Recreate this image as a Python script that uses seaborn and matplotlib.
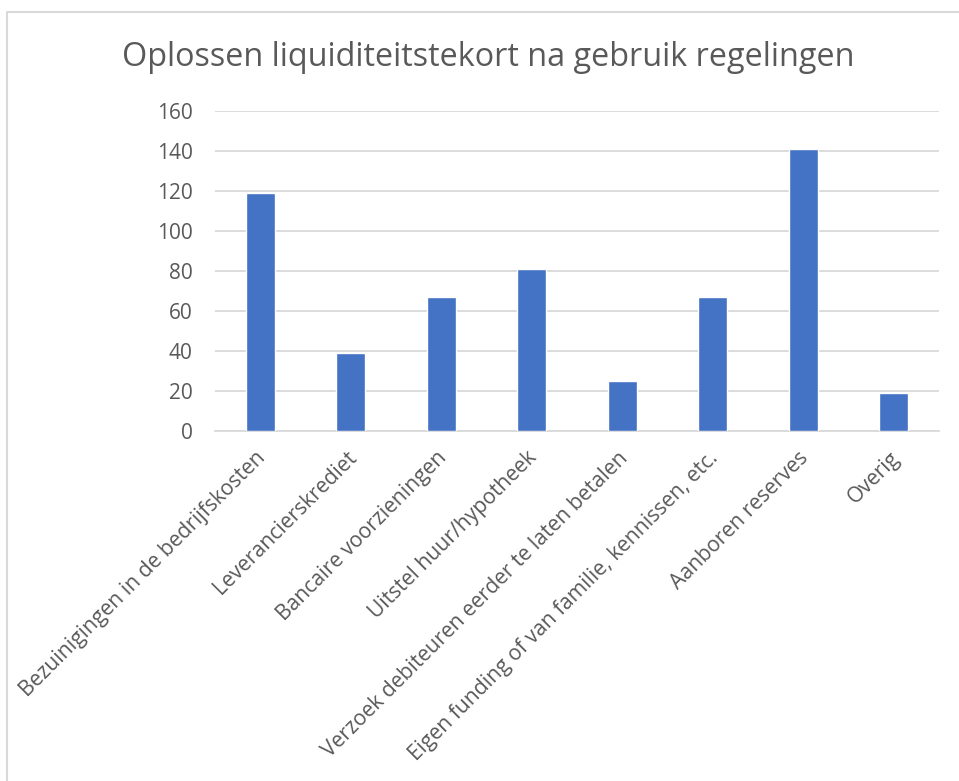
import matplotlib
matplotlib.use("Agg")
import matplotlib.pyplot as plt
import matplotlib.transforms as mtransforms
import seaborn as sns
import pandas as pd
from matplotlib.lines import Line2D

categories = [
    "Bezuinigingen in de bedrijfskosten",
    "Leverancierskrediet",
    "Bancaire voorzieningen",
    "Uitstel huur/hypotheek",
    "Verzoek debiteuren eerder te laten betalen",
    "Eigen funding of van familie, kennissen, etc.",
    "Aanboren reserves",
    "Overig",
]
values = [119, 39, 67, 81, 25, 67, 141, 19]
yticks = [0, 20, 40, 60, 80, 100, 120, 140, 160]
title = "Oplossen liquiditeitstekort na gebruik regelingen"

sns.set_theme(style="white")
plt.rcParams["font.family"] = ["Open Sans", "DejaVu Sans"]

df = pd.DataFrame({"cat": categories, "val": values})
W, H = 959, 781
fig = plt.figure(figsize=(W / 100, H / 100), dpi=100)
ax = fig.add_axes([215 / W, 1 - 431.3 / H, (939 - 215) / W, (431.3 - 110.7) / H])

sns.barplot(data=df, x="cat", y="val", color="#4472C4", width=0.32,
            saturation=1, ax=ax, zorder=3)

ax.set_ylim(0, 160)
ax.set_xlim(-0.5, len(categories) - 0.5)
ax.set_yticks(yticks)
ax.set_yticklabels([str(t) for t in yticks])
ax.yaxis.grid(True, color="#D9D9D9", linewidth=1.3, zorder=0)
ax.set_axisbelow(True)
for s in ["top", "right", "left"]:
    ax.spines[s].set_visible(False)
ax.spines["bottom"].set_color("#D9D9D9")
ax.spines["bottom"].set_linewidth(1.3)
ax.set_xlabel("")
ax.set_ylabel("")
ax.tick_params(axis="both", length=0, colors="#595959")
ax.tick_params(axis="y", pad=16, labelsize=15)
ax.tick_params(axis="x", pad=8, labelsize=15.2)
offset = mtransforms.ScaledTranslation(-0.05, -0.05, fig.dpi_scale_trans)
for lab in ax.get_xticklabels():
    lab.set_rotation(45)
    lab.set_ha("right")
    lab.set_rotation_mode("anchor")
    lab.set_transform(lab.get_transform() + offset)

fig.text(488 / W, 1 - 58 / H, title, ha="center", va="center",
         fontsize=23.3, color="#595959")

# outer chart-area border (top and left visible)
fig.add_artist(Line2D([7 / W, 7 / W, 1.0], [0.0, 1 - 12 / H, 1 - 12 / H],
                      transform=fig.transFigure, color="#D9D9D9", linewidth=1.5))

fig.savefig("out.png", dpi=100)
